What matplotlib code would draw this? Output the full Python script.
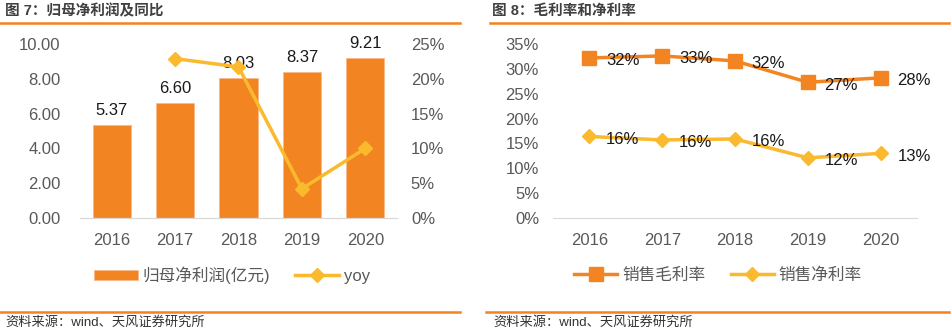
import matplotlib.pyplot as plt
import matplotlib.lines as mlines

plt.rcParams['font.family'] = ['Liberation Sans', 'Noto Sans CJK SC', 'DejaVu Sans']

years = ['2016', '2017', '2018', '2019', '2020']
profit = [5.37, 6.60, 8.03, 8.37, 9.21]
profit_labels = ['5.37', '6.60', '8.03', '8.37', '9.21']
yoy = [None, 0.229, 0.217, 0.042, 0.100]
gross_margin = [0.322, 0.326, 0.316, 0.273, 0.282]
net_margin = [0.164, 0.157, 0.159, 0.121, 0.130]
gross_labels = ['32%', '33%', '32%', '27%', '28%']
net_labels = ['16%', '16%', '16%', '12%', '13%']

ORANGE = '#F28522'
YELLOW = '#FBBA2D'
TICK = '#595959'
TEXT = '#404040'

W, H = 952, 332
fig = plt.figure(figsize=(W / 100, H / 100), dpi=100)
fig.patch.set_facecolor('white')


def px(x0, y0, x1, y1):
    # pixel box -> figure fraction [left, bottom, width, height]
    return [x0 / W, 1 - y1 / H, (x1 - x0) / W, (y1 - y0) / H]


def hline(x0, x1, y, lw=1.8):
    fig.add_artist(mlines.Line2D([x0 / W, x1 / W], [1 - y / H, 1 - y / H],
                                 color='#F5821F', linewidth=lw, transform=fig.transFigure))


# ---------------------------------------------------------
# headers / footers
# ---------------------------------------------------------
fig.text(5 / W, 1 - 11 / H, '图 7：归母净利润及同比', fontsize=10.5, weight='bold',
         color=TEXT, va='center', ha='left')
fig.text(492 / W, 1 - 11 / H, '图 8：毛利率和净利率', fontsize=10.5, weight='bold',
         color=TEXT, va='center', ha='left')
hline(0, 460, 22.5)
hline(490, 949, 22.5)
hline(0, 460, 311.5)
hline(486, 949, 311.5)
fig.text(5 / W, 1 - 322 / H, '资料来源：wind、天风证券研究所', fontsize=9.5,
         color='#333333', va='center', ha='left')
fig.text(493 / W, 1 - 322 / H, '资料来源：wind、天风证券研究所', fontsize=9.5,
         color='#333333', va='center', ha='left')

# ---------------------------------------------------------
# left panel: profit bars + yoy line
# ---------------------------------------------------------
ax1 = fig.add_axes(px(80, 44, 397, 218))
x = range(len(years))
ax1.bar(x, profit, width=0.6, color=ORANGE, edgecolor='#F8B88B', linewidth=0.6,
        label='归母净利润(亿元)', zorder=2)
for xi, v, lab in zip(x, profit, profit_labels):
    ax1.annotate(lab, (xi, v), xytext=(0, 5), textcoords='offset points',
                 ha='center', va='bottom', fontsize=12, color='#1a1a1a', zorder=5)
ax1.set_ylim(0, 10)
ax1.set_xlim(-0.5, 4.5)
ax1.set_yticks([0, 2, 4, 6, 8, 10])
ax1.set_yticklabels(['0.00', '2.00', '4.00', '6.00', '8.00', '10.00'])
ax1.set_xticks(list(x))
ax1.set_xticklabels(years)

ax1b = ax1.twinx()
yx = [i for i, v in zip(x, yoy) if v is not None]
yv = [v for v in yoy if v is not None]
ax1b.plot(yx, yv, color=YELLOW, linewidth=2.5, marker='D', markersize=7, label='yoy', zorder=3)
ax1b.set_ylim(0, 0.25)
ax1b.set_yticks([0, 0.05, 0.10, 0.15, 0.20, 0.25])
ax1b.set_yticklabels(['0%', '5%', '10%', '15%', '20%', '25%'])

for a in (ax1, ax1b):
    for s in ('top', 'left', 'right'):
        a.spines[s].set_visible(False)
    a.spines['bottom'].set_color('#d9d9d9')
    a.tick_params(length=0, labelsize=12, labelcolor=TICK)
ax1.tick_params(axis='y', pad=14)
ax1.tick_params(axis='x', pad=11)
ax1b.tick_params(axis='y', pad=10)

h1, l1 = ax1.get_legend_handles_labels()
h2, l2 = ax1b.get_legend_handles_labels()
fig.legend(h1 + h2, l1 + l2, loc='center', bbox_to_anchor=(232 / W, 1 - 275 / H), ncol=2,
           frameon=False, fontsize=12, labelcolor=TICK, handlelength=2.6, handleheight=0.55,
           handletextpad=0.3, columnspacing=1.5)

# ---------------------------------------------------------
# right panel: margins
# ---------------------------------------------------------
ax2 = fig.add_axes(px(553, 44, 917, 218))
ax2.plot(x, gross_margin, color=ORANGE, linewidth=2.5, marker='s', markersize=10,
         label='销售毛利率', zorder=3)
ax2.plot(x, net_margin, color=YELLOW, linewidth=2.5, marker='D', markersize=7,
         label='销售净利率', zorder=3)
for xi, v, lab in zip(x, gross_margin, gross_labels):
    ax2.annotate(lab, (xi, v), xytext=(12, -2), textcoords='offset points',
                 ha='left', va='center', fontsize=12, color='#1a1a1a', zorder=5)
for xi, v, lab in zip(x, net_margin, net_labels):
    ax2.annotate(lab, (xi, v), xytext=(12, -2), textcoords='offset points',
                 ha='left', va='center', fontsize=12, color='#1a1a1a', zorder=5)
ax2.set_ylim(0, 0.35)
ax2.set_xlim(-0.5, 4.5)
ax2.set_yticks([0, 0.05, 0.10, 0.15, 0.20, 0.25, 0.30, 0.35])
ax2.set_yticklabels(['0%', '5%', '10%', '15%', '20%', '25%', '30%', '35%'])
ax2.set_xticks(list(x))
ax2.set_xticklabels(years)
for s in ('top', 'left', 'right'):
    ax2.spines[s].set_visible(False)
ax2.spines['bottom'].set_color('#d9d9d9')
ax2.tick_params(length=0, labelsize=12, labelcolor=TICK)
ax2.tick_params(axis='y', pad=10)
ax2.tick_params(axis='x', pad=11)

ax2.legend(loc='center', bbox_to_anchor=(718 / W, 1 - 275 / H), bbox_transform=fig.transFigure,
           ncol=2, frameon=False, fontsize=12, labelcolor=TICK, handlelength=2.6,
           handletextpad=0.3, columnspacing=1.5)

plt.savefig('out.png', dpi=100, facecolor='white')
